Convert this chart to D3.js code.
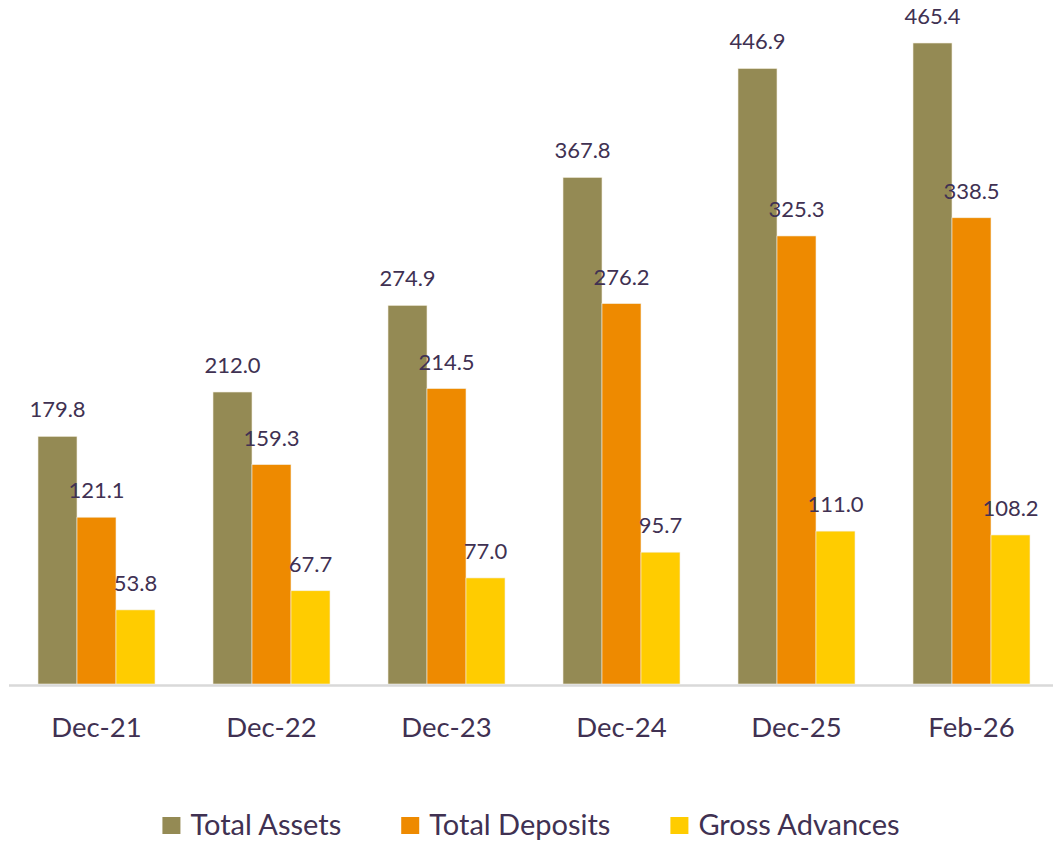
<!DOCTYPE html>
<html>
<head>
<meta charset="utf-8">
<script src="https://cdn.jsdelivr.net/npm/d3@7"></script>
<style>
  body { margin: 0; background: #fff; }
  text { font-family: Lato, "Noto Sans", sans-serif; fill: #403152; }
</style>
</head>
<body>
<svg id="chart" width="1053" height="842"></svg>
<script>
const categories = ["Dec-21", "Dec-22", "Dec-23", "Dec-24", "Dec-25", "Feb-26"];
const seriesNames = ["Total Assets", "Total Deposits", "Gross Advances"];
const totalAssets = [179.8, 212.0, 274.9, 367.8, 446.9, 465.4];
const totalDeposits = [121.1, 159.3, 214.5, 276.2, 325.3, 338.5];
const grossAdvances = [53.8, 67.7, 77.0, 95.7, 111.0, 108.2];
const colors = ["#948a54", "#ee8a00", "#ffcc00"];

const series = [totalAssets, totalDeposits, grossAdvances];

const svg = d3.select("#chart");
const baseline = 684;

// outer band for the categories, inner band for the three series
const x = d3.scaleBand()
  .domain(categories)
  .range([9, 1059])
  .paddingInner(58 / 175)
  .paddingOuter(29 / 175);

const xi = d3.scaleBand()
  .domain(d3.range(series.length))
  .range([0, x.bandwidth()]);

const y = d3.scaleLinear()
  .domain([0, 465.4])
  .range([baseline, 43]);

const groups = svg.selectAll("g.cat")
  .data(categories)
  .enter()
  .append("g")
  .attr("class", "cat")
  .attr("transform", d => "translate(" + x(d) + ",0)");

groups.each(function (cat, ci) {
  const g = d3.select(this);
  const rows = series.map((s, si) => ({ si: si, v: s[ci] }));

  g.selectAll("rect")
    .data(rows)
    .enter()
    .append("rect")
    .attr("x", d => xi(d.si))
    .attr("width", xi.bandwidth())
    .attr("y", d => y(d.v))
    .attr("height", d => baseline - y(d.v))
    .attr("fill", d => colors[d.si])
    .attr("stroke", "#f3efe0")
    .attr("stroke-width", 0.6);

  g.selectAll("text.val")
    .data(rows)
    .enter()
    .append("text")
    .attr("class", "val")
    .attr("x", d => xi(d.si) + xi.bandwidth() / 2)
    .attr("y", d => y(d.v) - 19)
    .attr("text-anchor", "middle")
    .style("font-size", "22px")
    .text(d => d.v.toFixed(1));
});

// axis line along the bottom
svg.append("line")
  .attr("x1", 9).attr("x2", 1053)
  .attr("y1", baseline + 1.5).attr("y2", baseline + 1.5)
  .attr("stroke", "#d9d9d9")
  .attr("stroke-width", 2.5);

svg.selectAll("text.cat")
  .data(categories)
  .enter()
  .append("text")
  .attr("class", "cat")
  .attr("x", d => x(d) + x.bandwidth() / 2)
  .attr("y", 737)
  .attr("text-anchor", "middle")
  .style("font-size", "27.5px")
  .text(d => d);

// legend
const legend = svg.append("g");
const items = legend.selectAll("g")
  .data(seriesNames)
  .enter()
  .append("g");

items.append("rect")
  .attr("width", 18)
  .attr("height", 17)
  .attr("y", 817)
  .attr("fill", (d, i) => colors[i]);

items.append("text")
  .attr("x", 28)
  .attr("y", 835)
  .style("font-size", "29px")
  .text(d => d);

let cx = 0;
const gap = 60;
items.each(function () {
  const w = d3.select(this).select("text").node().getComputedTextLength() + 28;
  d3.select(this).attr("transform", "translate(" + cx + ",0)");
  cx += w + gap;
});
const total = cx - gap;
legend.attr("transform", "translate(" + (531 - total / 2) + ",0)");
</script>
</body>
</html>
